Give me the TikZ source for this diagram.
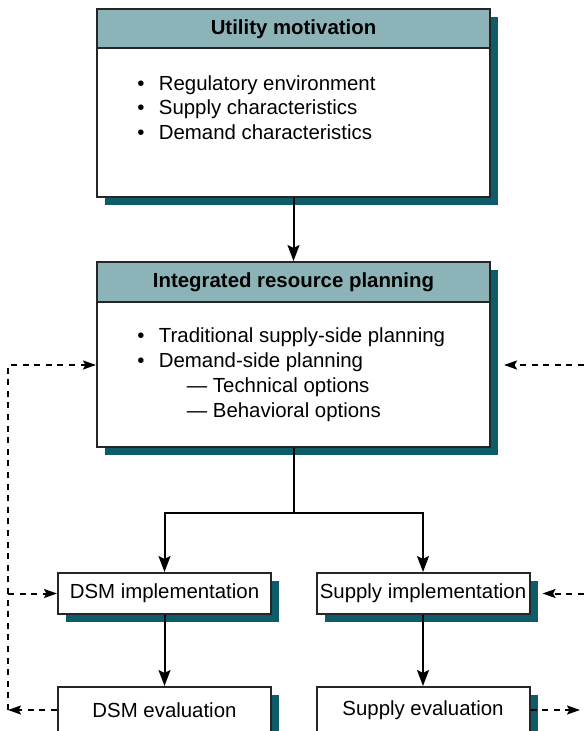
\documentclass[tikz,border=0pt]{standalone}
\usepackage{fontspec}
\setmainfont{Liberation Sans}
\usetikzlibrary{arrows.meta, positioning, shadows, calc}
\definecolor{headteal}{RGB}{140,180,184}
\definecolor{shadeteal}{RGB}{14,92,106}

\begin{document}
\begin{tikzpicture}[x=0.5pt, y=-0.5pt]
\tikzset{
  panel/.style={
    draw=black!85,
    line width=1pt,
    fill=white,
    inner sep=0pt,
    drop shadow={shadow xshift=4pt, shadow yshift=-4pt, fill=shadeteal, opacity=1}
  },
  head/.style={
    draw=black!85,
    line width=1pt,
    fill=headteal,
    inner sep=0pt,
    minimum width=196.5pt,
    font=\bfseries\fontsize{10.2}{12}\selectfont
  },
  stage/.style={
    panel,
    minimum width=106.5pt,
    minimum height=20.5pt,
    font=\fontsize{10.2}{12}\selectfont
  },
  items/.style={anchor=north west, align=left, inner sep=0pt},
  flow/.style={line width=1pt, -{Stealth[length=8pt, width=6pt, inset=1.5pt]}},
  fback/.style={line width=1pt, dash pattern=on 3pt off 2.8pt, -{Stealth[length=6.5pt, width=4.5pt, inset=1.2pt]}}
}
\useasboundingbox (0,0) rectangle (584,731);

% Utility motivation
\node[panel, minimum width=196.5pt, minimum height=94pt] (umbox) at (293.5,103.5) {};
\node[head, minimum height=19.5pt, anchor=north] (umhead) at (umbox.north) {Utility motivation};
\node[items, font=\fontsize{10.2}{12.25}\selectfont] (umlist) at (137,75) {%
  \textbullet\hspace{7.2pt}Regulatory environment\\
  \textbullet\hspace{7.2pt}Supply characteristics\\
  \textbullet\hspace{7.2pt}Demand characteristics};

% Integrated resource planning
\node[panel, minimum width=196.5pt, minimum height=92.5pt] (irpbox) at (293.5,354.5) {};
\node[head, minimum height=20pt, anchor=north] (irphead) at (irpbox.north) {Integrated resource planning};
\node[items, font=\fontsize{10.2}{12.5}\selectfont] (irplist) at (137,327) {%
  \textbullet\hspace{7.2pt}Traditional supply-side planning\\
  \textbullet\hspace{7.2pt}Demand-side planning\\
  \hspace*{24.75pt}--- Technical options\\
  \hspace*{24.75pt}--- Behavioral options};

% Implementation and evaluation
\node[stage] (dsmimpl) at (164.5,593.5) {DSM implementation};
\node[stage] (supimpl) at (423,593.5) {Supply implementation};
\node[stage, minimum height=23pt] (dsmeval) at (164.5,710) {DSM evaluation};
\node[stage, minimum height=23pt] (supeval) at (423,710) {Supply evaluation};

% Main flow
\draw[flow] (umbox) -- (irpbox);
\coordinate (split) at ([yshift=-32.5pt]irpbox.south);
\draw[line width=1pt] (irpbox.south) -- (split);
\draw[flow] (split) -| (dsmimpl.north);
\draw[flow] (split) -| (supimpl.north);
\draw[flow] (dsmimpl) -- (dsmeval);
\draw[flow] (supimpl) -- (supeval);

% Feedback loops
\coordinate (lcorner) at (8,710);
\coordinate (lirp) at (8,365);
\coordinate (rirp) at (584,365);
\coordinate (rimpl) at (584,593.5);
\coordinate (reval) at (580,710);
\draw[fback] (dsmeval.west) -- (lcorner);
\draw[fback] (lcorner) -- (lirp) -- (lirp -| irpbox.west);
\draw[fback] (lcorner |- dsmimpl.west) -- (dsmimpl.west);
\draw[fback] (rirp) -- ([xshift=6.5pt]rirp -| irpbox.east);
\draw[fback] (rimpl) -- ([xshift=6pt]supimpl.east);
\draw[fback] (supeval.east) -- (reval);

\end{tikzpicture}
\end{document}
